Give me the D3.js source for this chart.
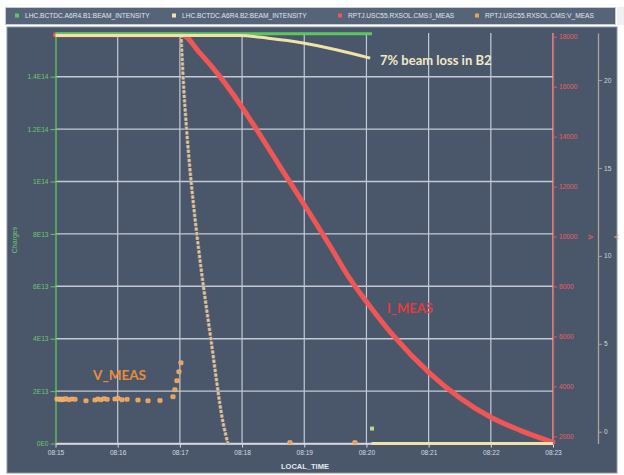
<!DOCTYPE html>
<meta charset="utf-8">
<script src="https://d3js.org/d3.v7.js"></script>
<style>
body { margin: 0; background: white; }
svg { display: block; font-family: "Liberation Sans", Arial, sans-serif; }
</style>
<div id="chart"></div>
<script>
// time is minutes after 08:15
var legendNames = ["LHC.BCTDC.A6R4.B1:BEAM_INTENSITY", "LHC.BCTDC.A6R4.B2:BEAM_INTENSITY",
                   "RPTJ.USC55.RXSOL.CMS:I_MEAS", "RPTJ.USC55.RXSOL.CMS:V_MEAS"];
var legendColors = ["#5cc85c", "#efe3a8", "#f05656", "#f0a050"];

var timeTicks = [0, 1, 2, 3, 4, 5, 6, 7, 8];
var chargeTicks = [0, 2e13, 4e13, 6e13, 8e13, 1e14, 1.2e14, 1.4e14];
var chargeLabels = ["0E0", "2E13", "4E13", "6E13", "8E13", "1E14", "1.2E14", "1.4E14"];
var ampTicks = [2000, 4000, 6000, 8000, 10000, 12000, 14000, 16000, 18000];
var voltTicks = [0, 5, 10, 15, 20];

// beam 1 intensity
var b1 = [[0, 15.64e13], [5.09, 15.64e13]];
var b1Spike = [[5.09, 0.57e13]];
// beam 2 intensity (null = gap at the dump)
var b2 = [[0, 15.57e13], [2.96, 15.57e13], [3.42, 15.47e13], [3.98, 15.29e13], [4.53, 15.02e13],
          [5.06, 14.71e13], null, [5.08, 0], [8.0, 0]];

// magnet current
var iMeas = [[0, 18080], [2.03, 18080], [2.32, 17350], [2.645, 16400], [2.99, 15212], [3.235, 14280],
             [3.61, 12800], [4.09, 10920], [4.41, 9640], [4.73, 8320], [5.01, 7360], [5.43, 6040],
             [6.02, 4520], [7.0, 2760], [7.47, 2240], [8.0, 1760]];

// voltage, low-level samples
var vLow = [[0.024, 1.86], [0.05, 1.84], [0.072, 1.86], [0.1, 1.82], [0.12, 1.86], [0.145, 1.84],
            [0.169, 1.88], [0.217, 1.82], [0.265, 1.86], [0.313, 1.84], [0.49, 1.76], [0.635, 1.8],
            [0.683, 1.86], [0.73, 1.82], [0.78, 1.88], [0.83, 1.84], [0.957, 1.86], [1.005, 1.9],
            [1.069, 1.82], [1.15, 1.84], [1.326, 1.8], [1.487, 1.76], [1.68, 1.78], [1.889, 1.99],
            [1.92, 2.39], [1.953, 2.9], [1.985, 3.41], [2.017, 3.92], [3.77, -0.62], [4.815, -0.62]];
// voltage discharge after 08:17
var vDrop = [[2.018, 22.56], [2.074, 18.86], [2.178, 14.32], [2.323, 9.77], [2.5, 5.23],
             [2.685, 0.68], [2.773, -0.68]];

var W = 624, H = 475;
var plotL = 55.5, plotR = 553, plotT = 33, plotB = 443.5;
var slate = "#4a576a", gridColor = "#c3cad5";

var svg = d3.select("#chart").append("svg").attr("width", W).attr("height", H);

// panel + legend bar
svg.append("rect").attr("x", 7).attr("y", 27).attr("width", 610).attr("height", 446)
  .attr("fill", slate).attr("stroke", "#8a96a6");
svg.append("rect").attr("x", 5.5).attr("y", 7.5).attr("width", 610).attr("height", 17)
  .attr("fill", "#56647a").attr("stroke", "#c4ccd6");
svg.append("rect").attr("x", 617).attr("y", 7).attr("width", 7).attr("height", 18).attr("fill", "#eef0f3");

var legendX = [15, 172, 338, 475];
var lg = svg.append("g").selectAll("g").data(legendNames).enter().append("g")
  .attr("transform", (d, i) => "translate(" + legendX[i] + ",16)");
lg.append("rect").attr("x", 0).attr("y", -2.5).attr("width", 4).attr("height", 4)
  .attr("fill", (d, i) => legendColors[i]);
lg.append("text").attr("x", 10).attr("y", 2.3).attr("font-size", 6.6).attr("fill", "#e2e6ec")
  .text(d => d);

var start = new Date(2012, 0, 1, 8, 15, 0);
var t = m => new Date(start.getTime() + m * 60000);

var x = d3.scaleTime().domain([t(0), t(8)]).range([plotL, plotR]);
var yQ = d3.scaleLinear().domain([0, (plotB - plotT) / 52.4 * 2e13]).range([plotB, plotT]);
var yI = d3.scaleLinear().domain([1712, 18148]).range([plotB, plotT]);
var yV = d3.scaleLinear().domain([-0.67, 22.67]).range([plotB, plotT]);

// grid
svg.append("g").selectAll("line").data(chargeTicks).enter().append("line")
  .attr("x1", plotL).attr("x2", plotR).attr("y1", d => yQ(d)).attr("y2", d => yQ(d))
  .attr("stroke", gridColor).attr("stroke-width", 1.4);
svg.append("g").selectAll("line").data(timeTicks.slice(1)).enter().append("line")
  .attr("x1", d => x(t(d))).attr("x2", d => x(t(d))).attr("y1", plotT).attr("y2", plotB)
  .attr("stroke", gridColor).attr("stroke-width", 1.2);

// axes
function styleAxis(g, color, labelColor) {
  g.select(".domain").attr("stroke", color).attr("stroke-width", 1.3);
  g.selectAll(".tick line").attr("stroke", color);
  g.selectAll(".tick text").attr("fill", labelColor).attr("font-size", 6.6)
    .attr("font-family", "Liberation Sans, Arial, sans-serif");
}

var xAxis = svg.append("g").attr("transform", "translate(0," + plotB + ")")
  .call(d3.axisBottom(x).tickValues(timeTicks.map(t)).tickFormat(d3.timeFormat("%H:%M"))
    .tickSize(4).tickSizeOuter(0).tickPadding(3));
styleAxis(xAxis, "#d8dde4", "#d4dae2");

var yAxisL = svg.append("g").attr("transform", "translate(" + plotL + ",0)")
  .call(d3.axisLeft(yQ).tickValues(chargeTicks).tickFormat((d, i) => chargeLabels[i])
    .tickSize(5).tickSizeOuter(0).tickPadding(2));
styleAxis(yAxisL, "#63c463", "#6cc86c");

var yAxisI = svg.append("g").attr("transform", "translate(" + plotR + ",0)")
  .call(d3.axisRight(yI).tickValues(ampTicks).tickFormat(d3.format("d"))
    .tickSize(4).tickSizeOuter(0).tickPadding(2));
styleAxis(yAxisI, "#e05a5a", "#e86060");

var yAxisV = svg.append("g").attr("transform", "translate(598,0)")
  .call(d3.axisRight(yV).tickValues(voltTicks).tickFormat(d3.format("d"))
    .tickSize(4).tickSizeOuter(0).tickPadding(2));
styleAxis(yAxisV, "#aaa49c", "#d4d6da");

// axis titles
svg.append("text").attr("x", 305).attr("y", 469).attr("text-anchor", "middle")
  .attr("font-size", 7.5).attr("font-weight", "bold").attr("fill", "#e4e8ee").text("LOCAL_TIME");
svg.append("text").attr("transform", "translate(17,240) rotate(-90)").attr("text-anchor", "middle")
  .attr("font-size", 7).attr("fill", "#6cc86c").text("Charges");
svg.append("text").attr("transform", "translate(588,237) rotate(90)").attr("text-anchor", "middle")
  .attr("font-size", 7.5).attr("fill", "#e86060").text("A");
svg.append("text").attr("transform", "translate(614,237) rotate(90)").attr("text-anchor", "middle")
  .attr("font-size", 7.5).attr("fill", "#e8a060").text("V");

// series
var lineQ = d3.line().defined(d => d !== null).x(d => x(t(d[0]))).y(d => yQ(d[1])).curve(d3.curveMonotoneX);
var lineI = d3.line().x(d => x(t(d[0]))).y(d => yI(d[1])).curve(d3.curveMonotoneX);
var lineV = d3.line().x(d => x(t(d[0]))).y(d => yV(d[1])).curve(d3.curveCatmullRom);

svg.append("g").selectAll("rect").data(vLow).enter().append("rect")
  .attr("x", d => x(t(d[0])) - 2.2).attr("y", d => yV(d[1]) - 2)
  .attr("width", 4.4).attr("height", 4).attr("rx", 1)
  .attr("fill", "#f0a050").attr("stroke", "#f6c48e").attr("stroke-width", 0.5);

svg.append("path").datum(vDrop).attr("d", lineV).attr("fill", "none")
  .attr("stroke", "#8f8a86").attr("stroke-width", 3.8).attr("stroke-dasharray", "3.2,1.4");
svg.append("path").datum(vDrop).attr("d", lineV).attr("fill", "none")
  .attr("stroke", "#e2c29a").attr("stroke-width", 2.4).attr("stroke-dasharray", "3.2,1.4");

svg.append("path").datum(iMeas).attr("d", lineI).attr("fill", "none")
  .attr("stroke", "#f05656").attr("stroke-width", 5).attr("stroke-linecap", "round");

svg.append("path").datum(b1).attr("d", lineQ).attr("fill", "none")
  .attr("stroke", "#5cc85c").attr("stroke-width", 3);
svg.append("path").datum(b2).attr("d", lineQ).attr("fill", "none")
  .attr("stroke", "#efe3a8").attr("stroke-width", 3);
svg.append("g").selectAll("rect").data(b1Spike).enter().append("rect")
  .attr("x", d => x(t(d[0])) - 2).attr("y", d => yQ(d[1]) - 2)
  .attr("width", 4).attr("height", 4).attr("fill", "#b8d890");

// annotations
svg.append("text").attr("x", 380).attr("y", 65).attr("font-family", "Lato, sans-serif")
  .attr("font-weight", "bold").attr("font-size", 13).attr("fill", "#f2e8c6").text("7% beam loss in B2");
svg.append("text").attr("x", 387).attr("y", 313).attr("font-family", "Lato, sans-serif")
  .attr("font-weight", "bold").attr("font-size", 13).attr("fill", "#e23c3c").text("I_MEAS");
svg.append("text").attr("x", 93).attr("y", 380).attr("font-family", "Lato, sans-serif")
  .attr("font-weight", "bold").attr("font-size", 13.5).attr("fill", "#ec8a3a").text("V_MEAS");
</script>
</html>
